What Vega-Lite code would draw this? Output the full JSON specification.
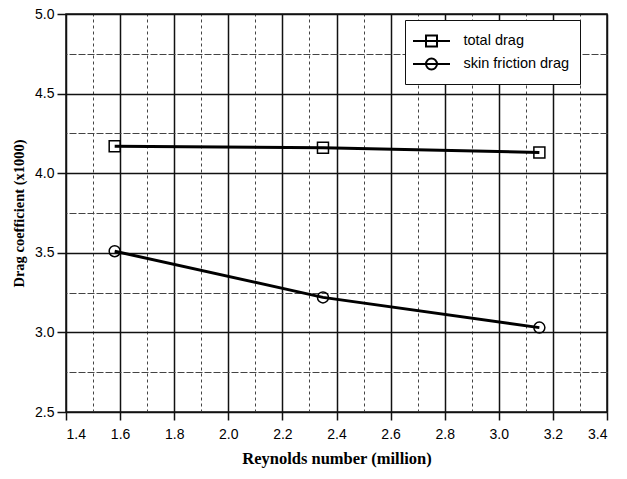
{
  "$schema": "https://vega.github.io/schema/vega-lite/v6.json",
  "width": 541,
  "height": 398,
  "autosize": {"type": "none"},
  "padding": {"left": 66, "top": 14, "right": 20, "bottom": 67},
  "background": "white",
  "config": {
    "view": {"stroke": "#111", "strokeWidth": 1.5},
    "font": "Liberation Sans"
  },
  "data": {
    "values": [
      {"Re": 1.58, "Cd": 4.17, "series": "total drag"},
      {"Re": 2.35, "Cd": 4.16, "series": "total drag"},
      {"Re": 3.15, "Cd": 4.13, "series": "total drag"},
      {"Re": 1.58, "Cd": 3.51, "series": "skin friction drag"},
      {"Re": 2.35, "Cd": 3.22, "series": "skin friction drag"},
      {"Re": 3.15, "Cd": 3.03, "series": "skin friction drag"}
    ]
  },
  "layer": [
    {
      "mark": {"type": "line", "color": "black", "strokeWidth": 3},
      "encoding": {
        "x": {
          "field": "Re", "type": "quantitative",
          "scale": {"domain": [1.4, 3.4], "nice": false, "zero": false},
          "axis": {
            "orient": "top", "values": [1.5, 1.7, 1.9, 2.1, 2.3, 2.5, 2.7, 2.9, 3.1, 3.3],
            "grid": true, "gridDash": [3, 3], "gridColor": "#444", "gridWidth": 1,
            "labels": false, "ticks": false, "domain": false, "title": null
          }
        },
        "y": {
          "field": "Cd", "type": "quantitative",
          "scale": {"domain": [2.5, 5.0], "nice": false, "zero": false},
          "axis": {
            "orient": "right", "values": [2.75, 3.25, 3.75, 4.25, 4.75],
            "grid": true, "gridDash": [7, 2], "gridColor": "#444", "gridWidth": 1,
            "labels": false, "ticks": false, "domain": false, "title": null
          }
        },
        "detail": {"field": "series"}
      }
    },
    {
      "mark": {"type": "point", "filled": false, "color": "black", "strokeWidth": 1.5, "size": 121, "opacity": 1},
      "encoding": {
        "x": {
          "field": "Re", "type": "quantitative",
          "scale": {"domain": [1.4, 3.4], "nice": false, "zero": false},
          "axis": {
            "orient": "bottom", "values": [1.4, 1.6, 1.8, 2.0, 2.2, 2.4, 2.6, 2.8, 3.0, 3.2, 3.4],
            "format": ".1f", "grid": true, "gridColor": "#111", "gridWidth": 1.5,
            "domain": false, "tickColor": "#111", "tickWidth": 1.5, "tickSize": 8,
            "labelPadding": 7, "labelFontSize": 14, "labelColor": "black", "labelFont": "Liberation Sans",
            "title": "Reynolds number (million)", "titleFont": "Liberation Serif",
            "titleFontWeight": "bold", "titleFontSize": 16.5, "titleColor": "black", "titlePadding": 9
          }
        },
        "y": {
          "field": "Cd", "type": "quantitative",
          "scale": {"domain": [2.5, 5.0], "nice": false, "zero": false},
          "axis": {
            "orient": "left", "values": [2.5, 3.0, 3.5, 4.0, 4.5, 5.0],
            "format": ".1f", "grid": true, "gridColor": "#111", "gridWidth": 1.5,
            "domain": false, "tickColor": "#111", "tickWidth": 1.5, "tickSize": 9,
            "labelPadding": 3, "labelFontSize": 14, "labelColor": "black", "labelFont": "Liberation Sans",
            "title": "Drag coefficient (x1000)", "titleFont": "Liberation Serif",
            "titleFontWeight": "bold", "titleFontSize": 14.5, "titleColor": "black", "titlePadding": 8
          }
        },
        "shape": {
          "field": "series", "type": "nominal",
          "scale": {"domain": ["total drag", "skin friction drag"], "range": ["square", "circle"]},
          "legend": null
        }
      }
    },
    {
      "mark": {"type": "point", "filled": false, "color": "black", "opacity": 0},
      "encoding": {
        "x": {"field": "Re", "type": "quantitative", "axis": null},
        "y": {"field": "Cd", "type": "quantitative", "axis": null},
        "shape": {
          "field": "series", "type": "nominal",
          "scale": {
            "domain": ["total drag", "skin friction drag"],
            "range": [
              "M-1.85,0H1.85M-0.55,-0.55H0.55V0.55H-0.55Z",
              "M-1.85,0H1.85M0.55,0A0.55,0.55,0,1,1,-0.55,0A0.55,0.55,0,1,1,0.55,0Z"
            ]
          },
          "legend": {
            "title": null,
            "orient": "none",
            "legendX": 339,
            "legendY": 6,
            "fillColor": "white",
            "strokeColor": "#111",
            "padding": 10,
            "symbolSize": 400,
            "symbolStrokeWidth": 2,
            "symbolStrokeColor": "black",
            "symbolFillColor": "transparent",
            "symbolOpacity": 1,
            "symbolOffset": 5.5,
            "labelOffset": 21,
            "labelFont": "Liberation Sans",
            "labelFontSize": 14.5,
            "labelColor": "black",
            "rowPadding": 2,
            "encode": {
              "legend": {"strokeWidth": {"value": 1.5}},
              "entries": {"width": {"value": 179}}
            }
          }
        }
      }
    }
  ],
  "resolve": {
    "scale": {"shape": "independent"},
    "axis": {"x": "independent", "y": "independent"}
  }
}
